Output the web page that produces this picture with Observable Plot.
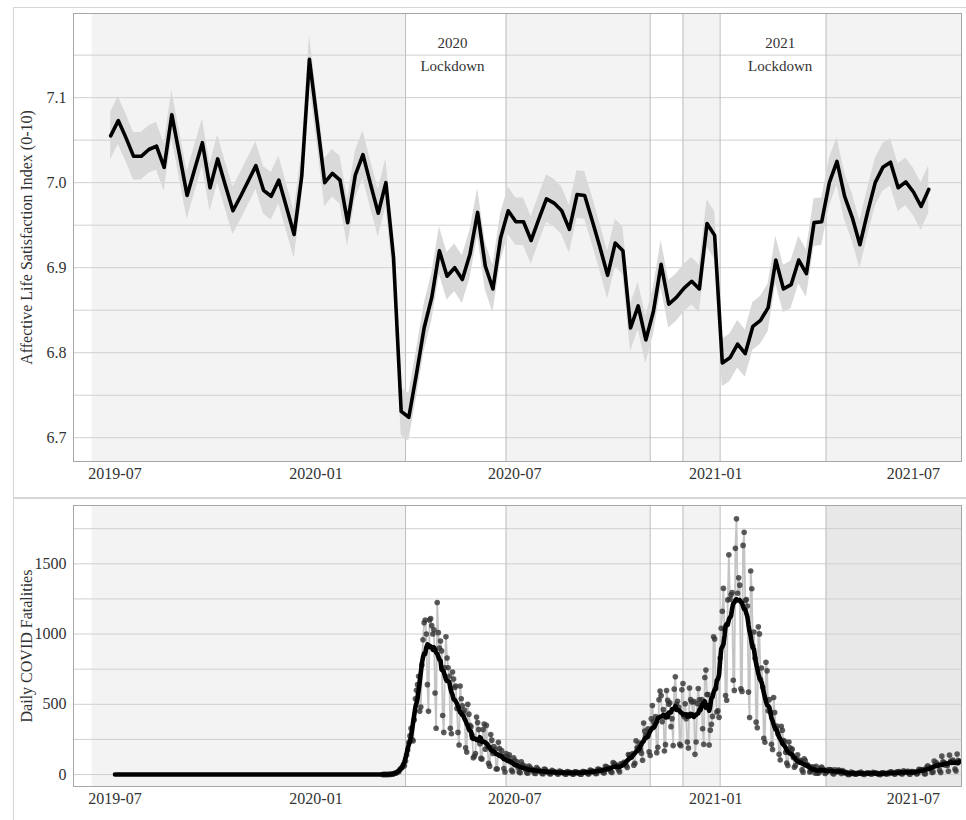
<!DOCTYPE html>
<html><head><meta charset="utf-8">
<script src="https://cdn.jsdelivr.net/npm/d3@7"></script>
<script src="https://cdn.jsdelivr.net/npm/@observablehq/plot@0.6"></script>
<style>
html,body{margin:0;padding:0;background:#fff;overflow:hidden;width:966px;height:820px;}
.box{position:absolute;border:1px solid #d5d5d5;box-sizing:border-box;}
.plot{position:absolute;}
</style></head><body>
<div class="box" style="left:13px;top:7px;width:970px;height:492px"></div>
<div class="box" style="left:13px;top:497px;width:970px;height:340px"></div>
<div id="top" class="plot" style="left:13px;top:7px"></div>
<div id="bottom" class="plot" style="left:13px;top:498px"></div>
<script>
// ---------- data ----------
const xTicks = ["2019-07-01","2020-01-01","2020-07-01","2021-01-01","2021-07-01"];
const lockdownBoundaries = ["2020-03-23","2020-06-23","2020-11-02","2020-12-02","2021-01-05","2021-04-12"];
const greyPeriods = [
  {start:"2019-06-10", end:"2020-03-23", late:false},
  {start:"2020-06-23", end:"2020-11-02", late:false},
  {start:"2020-12-02", end:"2021-01-05", late:false},
  {start:"2021-04-12", end:"2021-08-14", late:true}
];
const lockdownLabels = [
  {date:"2020-05-05", label:"2020\nLockdown"},
  {date:"2021-03-01", label:"2021\nLockdown"}
];

// weekly Affective Life Satisfaction Index, first week starting:
const satisfactionStart = "2019-06-27";
const satisfaction = [
  7.055,7.073,7.053,7.031,7.031,7.039,7.043,7.018,7.080,7.033,
  6.985,7.016,7.047,6.994,7.028,6.997,6.967,6.984,7.002,7.020,
  6.991,6.984,7.003,6.971,6.939,7.008,7.145,7.073,7.000,7.011,
  7.003,6.953,7.009,7.033,6.998,6.964,7.000,6.912,6.731,6.724,
  6.775,6.829,6.865,6.920,6.890,6.900,6.886,6.916,6.965,6.902,
  6.875,6.935,6.967,6.954,6.954,6.932,6.957,6.981,6.976,6.967,
  6.945,6.986,6.985,6.955,6.924,6.891,6.929,6.920,6.829,6.855,
  6.815,6.849,6.904,6.857,6.865,6.876,6.884,6.875,6.952,6.938,
  6.788,6.794,6.810,6.799,6.831,6.838,6.853,6.909,6.875,6.880,
  6.909,6.893,6.953,6.954,7.000,7.025,6.984,6.959,6.927,6.965,
  7.000,7.018,7.024,6.994,7.001,6.989,6.972,6.992
];
const ribbonHalfWidth = 0.028;
const topTicks = [6.7, 6.8, 6.9, 7.0, 7.1];
const topGrid = [6.7, 6.75, 6.8, 6.85, 6.9, 6.95, 7.0, 7.05, 7.1, 7.15];

// daily COVID fatalities, rows = weeks Mon..Sun, first day:
const deathsStart = "2020-03-02";
const zeroSeriesStart = "2019-07-01";
const dailyDeathsByWeek = [
  [0,1,0,1,0,1,2],
  [1,2,3,5,9,10,12],
  [20,22,38,45,52,70,62],
  [95,140,175,230,275,330,250],
  [240,390,540,600,640,700,450],
  [480,780,960,1080,1100,1000,640],
  [450,1100,1110,1060,1000,1030,580],
  [330,1225,1010,900,950,880,420],
  [300,760,980,830,760,700,330],
  [290,730,680,620,630,470,300],
  [210,630,540,490,440,460,190],
  [160,500,430,350,340,280,120],
  [130,150,410,370,320,220,115],
  [110,320,360,180,350,200,80],
  [60,285,245,150,200,180,40],
  [40,230,185,135,170,128,43],
  [18,150,130,120,140,90,30],
  [20,120,100,70,90,50,18],
  [12,90,70,50,60,35,12],
  [10,60,50,40,35,25,10],
  [8,50,40,30,25,20,7],
  [6,40,35,22,20,15,6],
  [5,30,25,20,18,12,5],
  [4,25,20,16,14,10,4],
  [3,22,18,15,14,9,3],
  [4,20,19,14,15,10,3],
  [3,22,22,17,18,12,5],
  [5,32,28,22,23,16,8],
  [8,40,38,30,32,26,12],
  [11,58,55,42,48,38,20],
  [15,85,78,71,66,49,33],
  [19,76,70,77,87,81,65],
  [50,143,137,138,136,150,67],
  [80,241,191,189,224,174,151],
  [102,367,310,280,274,326,162],
  [136,397,492,378,355,413,156],
  [194,532,595,563,376,462,168],
  [213,598,529,501,511,341,398],
  [206,608,696,498,521,479,215],
  [205,603,648,414,504,397,231],
  [189,616,533,516,424,519,144],
  [232,506,612,532,489,534,326],
  [215,691,744,570,570,210,316],
  [357,414,981,964,613,445,454],
  [407,830,1041,1162,1325,1035,563],
  [529,1243,1564,1248,1280,1295,671],
  [599,1610,1820,1290,1401,1348,610],
  [592,1631,1725,1239,1245,1200,587],
  [406,1449,1322,915,1014,828,373],
  [333,1052,1001,678,758,621,258],
  [230,799,738,454,533,445,215],
  [178,548,442,323,345,290,144],
  [104,343,315,242,236,158,82],
  [65,231,190,175,181,121,52],
  [64,110,141,95,101,96,33],
  [17,112,98,70,70,58,19],
  [23,56,43,51,10,58,10],
  [9,20,45,53,40,34,7],
  [13,23,33,36,34,32,10],
  [4,33,22,18,32,30,17],
  [7,29,22,11,15,14,1],
  [1,4,18,13,13,6,2],
  [4,11,9,11,17,7,4],
  [1,7,9,11,12,7,5],
  [4,16,12,10,10,7,2],
  [1,1,12,12,11,8,4],
  [5,13,8,19,17,12,7],
  [3,9,19,19,21,10,6],
  [5,27,19,16,21,23,5],
  [3,22,22,18,18,15,4],
  [9,37,33,35,34,34,6],
  [6,50,63,49,51,41,14],
  [19,96,73,84,71,65,28],
  [14,131,91,85,68,74,65],
  [24,138,92,95,103,92,39],
  [26,146,100,94]
];
const bottomTicks = [0, 500, 1000, 1500];
const bottomGrid = [0, 250, 500, 750, 1000, 1250, 1500, 1750];

// ---------- build ----------
const D = s => new Date(s);
const topData = satisfaction.map((v, i) => ({date: d3.utcDay.offset(D(satisfactionStart), 7 * i), v}));
const daily = dailyDeathsByWeek.flat().map((v, i) => ({date: d3.utcDay.offset(D(deathsStart), i), deaths: v}));
const lineData = [{date: D(zeroSeriesStart), deaths: 0}].concat(daily);

const xDomain = [D("2019-05-24"), D("2021-08-14")];
const font = "'Liberation Serif', 'Times New Roman', Times, serif";
const baseStyle = {background: "transparent", fontFamily: font, fontSize: "16px", color: "#333", overflow: "visible"};
const fmtX = d3.utcFormat("%Y-%m");

const topPlot = Plot.plot({
  width: 953, height: 491,
  marginTop: 6, marginBottom: 37, marginLeft: 60, marginRight: 5,
  style: baseStyle,
  x: {type: "utc", domain: xDomain, ticks: xTicks.map(D), tickFormat: fmtX, tickSize: 0, tickPadding: 6, label: null},
  y: {domain: [6.672, 7.199], ticks: topTicks, tickFormat: d3.format(".1f"), tickSize: 0, tickPadding: 7,
      label: "Affective Life Satisfaction Index (0-10)", labelAnchor: "center", labelOffset: 53, labelArrow: "none"},
  marks: [
    Plot.rect(greyPeriods, {x1: d => D(d.start), x2: d => D(d.end), fill: "#f3f3f3"}),
    Plot.ruleY(topGrid, {stroke: "#d0d0d0", strokeWidth: 1}),
    Plot.ruleX(lockdownBoundaries.map(D), {stroke: "#bdbdbd", strokeWidth: 1}),
    Plot.areaY(topData, {x: "date", y1: d => d.v - ribbonHalfWidth, y2: d => d.v + ribbonHalfWidth, fill: "#d9d9d9"}),
    Plot.lineY(topData, {x: "date", y: "v", stroke: "#000", strokeWidth: 3.6}),
    Plot.text(lockdownLabels, {x: d => D(d.date), frameAnchor: "top", dy: 39, text: "label",
      lineAnchor: "middle", lineHeight: 1.5, fontSize: 15, fill: "#333"}),
    Plot.frame({stroke: "#a6a6a6"})
  ]
});
document.getElementById("top").appendChild(topPlot);

const bottomPlot = Plot.plot({
  width: 953, height: 322,
  marginTop: 7, marginBottom: 34, marginLeft: 60, marginRight: 5,
  style: baseStyle,
  x: {type: "utc", domain: xDomain, ticks: xTicks.map(D), tickFormat: fmtX, tickSize: 0, tickPadding: 6, label: null},
  y: {domain: [-85, 1915], ticks: bottomTicks, tickFormat: d3.format("d"), tickSize: 0, tickPadding: 7,
      label: "Daily COVID Fatalities", labelAnchor: "center", labelOffset: 53, labelArrow: "none"},
  marks: [
    Plot.rect(greyPeriods, {x1: d => D(d.start), x2: d => D(d.end), fill: d => d.late ? "#e8e8e8" : "#f3f3f3"}),
    Plot.ruleY(bottomGrid, {stroke: "#d0d0d0", strokeWidth: 1}),
    Plot.ruleX(lockdownBoundaries.map(D), {stroke: "#bdbdbd", strokeWidth: 1}),
    Plot.lineY(daily, {x: "date", y: "deaths", stroke: "#c4c4c4", strokeWidth: 1.8}),
    Plot.dot(daily, {x: "date", y: "deaths", r: 2.8, fill: "#333", fillOpacity: 0.8, stroke: "none"}),
    Plot.lineY(lineData, Plot.windowY({k: 7, anchor: "middle", reduce: "mean"}, {x: "date", y: "deaths", stroke: "#000", strokeWidth: 4.6})),
    Plot.frame({stroke: "#a6a6a6"})
  ]
});
document.getElementById("bottom").appendChild(bottomPlot);
</script>
</body></html>
